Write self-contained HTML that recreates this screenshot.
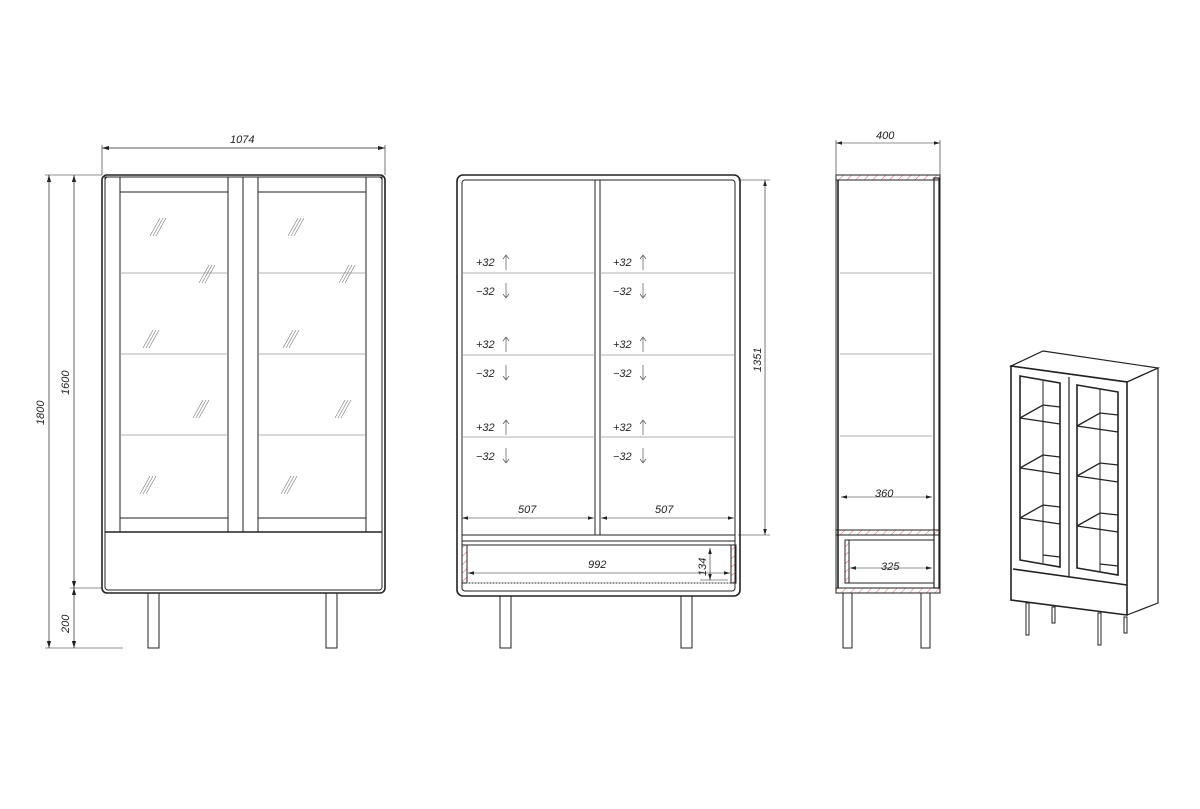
<!DOCTYPE html>
<html><head><style>body{margin:0;background:#fff}svg{display:block}text{font-family:"Liberation Sans",sans-serif;font-style:italic;font-size:11px;fill:#222}</style></head>
<body>
<svg width="1200" height="809" viewBox="0 0 1200 809" xmlns="http://www.w3.org/2000/svg">
<defs>
<marker id="a" viewBox="0 0 10 6" refX="10" refY="3" markerWidth="10" markerHeight="6" orient="auto-start-reverse"><path d="M0,0L10,3L0,6z" fill="#222"/></marker>
<pattern id="h" width="6" height="6" patternUnits="userSpaceOnUse" patternTransform="rotate(45)"><line x1="0" y1="0" x2="0" y2="6" stroke="#e33" stroke-width="0.8"/></pattern>
</defs>
<g fill="none" stroke="#222" stroke-width="1">
<!-- FRONT -->
<line x1="102" y1="148" x2="385" y2="148" marker-start="url(#a)" marker-end="url(#a)" stroke-width="0.7"/>
<line x1="102" y1="145" x2="102" y2="175" stroke-width="0.6"/><line x1="385" y1="145" x2="385" y2="175" stroke-width="0.6"/>
<rect x="102" y="175" width="283" height="418" rx="5" stroke-width="1.6"/>
<rect x="105" y="177" width="277" height="413" rx="3"/>
<rect x="105" y="177" width="138" height="355"/><rect x="243" y="177" width="139" height="355"/>
<rect x="120" y="192" width="108" height="326"/><rect x="258" y="192" width="108" height="326"/>
<line x1="120" y1="177" x2="120" y2="532"/><line x1="228" y1="177" x2="228" y2="532"/><line x1="258" y1="177" x2="258" y2="532"/><line x1="366" y1="177" x2="366" y2="532"/>
<line x1="105" y1="532" x2="382" y2="532" stroke-width="1.6"/>
<g stroke="#999" stroke-width="0.8"><line x1="120" y1="273" x2="228" y2="273"/><line x1="258" y1="273" x2="366" y2="273"/><line x1="120" y1="354" x2="228" y2="354"/><line x1="258" y1="354" x2="366" y2="354"/><line x1="120" y1="435" x2="228" y2="435"/><line x1="258" y1="435" x2="366" y2="435"/></g>
<g stroke="#777" stroke-width="0.6">
<path d="M150,236l10,-18M153,236l10,-18M156,236l10,-18"/><path d="M288,236l10,-18M291,236l10,-18M294,236l10,-18"/>
<path d="M199,283l10,-18M202,283l10,-18M205,283l10,-18"/><path d="M339,283l10,-18M342,283l10,-18M345,283l10,-18"/>
<path d="M143,348l10,-18M146,348l10,-18M149,348l10,-18"/><path d="M283,348l10,-18M286,348l10,-18M289,348l10,-18"/>
<path d="M193,418l10,-18M196,418l10,-18M199,418l10,-18"/><path d="M335,418l10,-18M338,418l10,-18M341,418l10,-18"/>
<path d="M140,494l10,-18M143,494l10,-18M146,494l10,-18"/><path d="M281,494l10,-18M284,494l10,-18M287,494l10,-18"/>
</g>
<rect x="148" y="593" width="11" height="55"/><rect x="326" y="593" width="11" height="55"/>
<line x1="49" y1="175" x2="49" y2="648" marker-start="url(#a)" marker-end="url(#a)" stroke-width="0.7"/>
<line x1="74" y1="175" x2="74" y2="588" marker-start="url(#a)" marker-end="url(#a)" stroke-width="0.7"/>
<line x1="74" y1="588" x2="74" y2="648" marker-start="url(#a)" marker-end="url(#a)" stroke-width="0.7"/>
<g stroke-width="0.6"><line x1="45" y1="175" x2="102" y2="175"/><line x1="70" y1="588" x2="102" y2="588"/><line x1="45" y1="648" x2="123" y2="648"/></g>
<!-- BACK -->
<rect x="457" y="175" width="283" height="421" rx="6" stroke-width="1.6"/>
<rect x="462" y="180" width="273" height="411" rx="3"/>
<rect x="595" y="180" width="5" height="355"/>
<rect x="462" y="535" width="273" height="6"/>
<rect x="467" y="545" width="264" height="38"/>
<rect x="462" y="545" width="5" height="38" fill="url(#h)"/><rect x="731" y="545" width="5" height="38" fill="url(#h)"/>
<line x1="467" y1="583" x2="731" y2="583" stroke="#aaa" stroke-dasharray="2,1"/>
<g stroke="#999" stroke-width="0.8"><line x1="462" y1="273" x2="595" y2="273"/><line x1="600" y1="273" x2="735" y2="273"/><line x1="462" y1="355" x2="595" y2="355"/><line x1="600" y1="355" x2="735" y2="355"/><line x1="462" y1="437" x2="595" y2="437"/><line x1="600" y1="437" x2="735" y2="437"/></g>
<rect x="500" y="596" width="11" height="52"/><rect x="681" y="596" width="11" height="52"/>
<g stroke-width="0.6">
<line x1="462" y1="518" x2="594" y2="518" marker-start="url(#a)" marker-end="url(#a)"/>
<line x1="601" y1="518" x2="734" y2="518" marker-start="url(#a)" marker-end="url(#a)"/>
<line x1="468" y1="573" x2="730" y2="573" marker-start="url(#a)" marker-end="url(#a)"/>
<line x1="710" y1="548" x2="710" y2="580" marker-start="url(#a)" marker-end="url(#a)"/>
<line x1="700" y1="580" x2="728" y2="580"/>
<line x1="765" y1="180" x2="765" y2="535" marker-start="url(#a)" marker-end="url(#a)"/>
<line x1="738" y1="180" x2="770" y2="180"/><line x1="738" y1="535" x2="770" y2="535"/>
</g>
<g stroke="#555" stroke-width="0.7">
<path d="M506,270v-14M503,259l3,-4l3,4"/><path d="M506,283v14M503,294l3,4l3,-4"/>
<path d="M643,270v-14M640,259l3,-4l3,4"/><path d="M643,283v14M640,294l3,4l3,-4"/>
<path d="M506,352v-14M503,341l3,-4l3,4"/><path d="M506,365v14M503,376l3,4l3,-4"/>
<path d="M643,352v-14M640,341l3,-4l3,4"/><path d="M643,365v14M640,376l3,4l3,-4"/>
<path d="M506,435v-14M503,424l3,-4l3,4"/><path d="M506,448v14M503,459l3,4l3,-4"/>
<path d="M643,435v-14M640,424l3,-4l3,4"/><path d="M643,448v14M640,459l3,4l3,-4"/>
</g>
<!-- SIDE -->
<line x1="836" y1="143" x2="940" y2="143" marker-start="url(#a)" marker-end="url(#a)" stroke-width="0.6"/>
<line x1="836" y1="140" x2="836" y2="175" stroke-width="0.6"/><line x1="940" y1="140" x2="940" y2="175" stroke-width="0.6"/>
<rect x="836" y="175" width="104" height="418"/>
<rect x="836" y="175" width="104" height="5" fill="url(#h)"/>
<rect x="836" y="530" width="104" height="5" fill="url(#h)"/>
<rect x="836" y="588" width="104" height="5" fill="url(#h)"/>
<line x1="838" y1="180" x2="838" y2="588" stroke-width="1.6"/>
<rect x="934" y="178" width="5" height="410" stroke-width="1.2"/>
<rect x="845" y="540" width="89" height="43"/><rect x="845" y="540" width="4" height="43" fill="url(#h)"/>
<g stroke="#999" stroke-width="0.8"><line x1="840" y1="273" x2="932" y2="273"/><line x1="840" y1="354" x2="932" y2="354"/><line x1="840" y1="436" x2="932" y2="436"/></g>
<line x1="841" y1="497" x2="932" y2="497" marker-start="url(#a)" marker-end="url(#a)" stroke-width="0.6"/>
<line x1="850" y1="568" x2="932" y2="568" marker-start="url(#a)" marker-end="url(#a)" stroke-width="0.6"/>
<rect x="843" y="593" width="9" height="55"/><rect x="921" y="593" width="9" height="55"/>
<!-- ISO -->
<path d="M1011,366L1043,351L1158,368L1127,382Z" stroke-width="1.2"/>
<path d="M1011,366L1127,382L1127,615L1011,600Z" stroke-width="1.6"/>
<path d="M1127,382L1158,368L1158,603L1127,615" stroke-width="1.2"/>
<line x1="1013" y1="569" x2="1127" y2="585" stroke-width="1.6"/>
<line x1="1069" y1="377" x2="1069" y2="577" stroke-width="1.2"/>
<path d="M1020,376L1060,383L1060,567L1020,560Z" stroke-width="1.6"/>
<path d="M1077,385L1118,392L1118,575L1077,568Z" stroke-width="1.6"/>
<line x1="1043" y1="381" x2="1043" y2="563"/><line x1="1100" y1="389" x2="1100" y2="572"/>
<g stroke-width="1.3">
<path d="M1020,418L1060,424M1020,418L1043,405L1060,407"/><path d="M1077,426L1118,432M1077,426L1100,413L1118,415"/>
<path d="M1020,468L1060,474M1020,468L1043,455L1060,457"/><path d="M1077,476L1118,482M1077,476L1100,463L1118,465"/>
<path d="M1020,518L1060,524M1020,518L1043,505L1060,507"/><path d="M1077,526L1118,532M1077,526L1100,513L1118,515"/>
<path d="M1043,555L1060,557"/><path d="M1100,564L1118,566"/>
</g>
<g stroke-width="1"><rect x="1026" y="603" width="3" height="32"/><rect x="1052" y="607" width="3" height="16"/><rect x="1098" y="613" width="3" height="32"/><rect x="1124" y="617" width="3" height="16"/></g>
</g>
<text x="230" y="143">1074</text>
<text transform="translate(44,425) rotate(-90)">1800</text>
<text transform="translate(69,395) rotate(-90)">1600</text>
<text transform="translate(69,633) rotate(-90)">200</text>
<text x="518" y="513">507</text><text x="655" y="513">507</text>
<text x="588" y="568">992</text>
<text transform="translate(706,576) rotate(-90)">134</text>
<text transform="translate(761,372) rotate(-90)">1351</text>
<text x="876" y="139">400</text>
<text x="875" y="497">360</text>
<text x="881" y="570">325</text>
<g style="font-size:10px">
<text x="476" y="266">+32</text><text x="476" y="295">−32</text><text x="613" y="266">+32</text><text x="613" y="295">−32</text>
<text x="476" y="348">+32</text><text x="476" y="377">−32</text><text x="613" y="348">+32</text><text x="613" y="377">−32</text>
<text x="476" y="431">+32</text><text x="476" y="460">−32</text><text x="613" y="431">+32</text><text x="613" y="460">−32</text>
</g>
</svg>
</body></html>
